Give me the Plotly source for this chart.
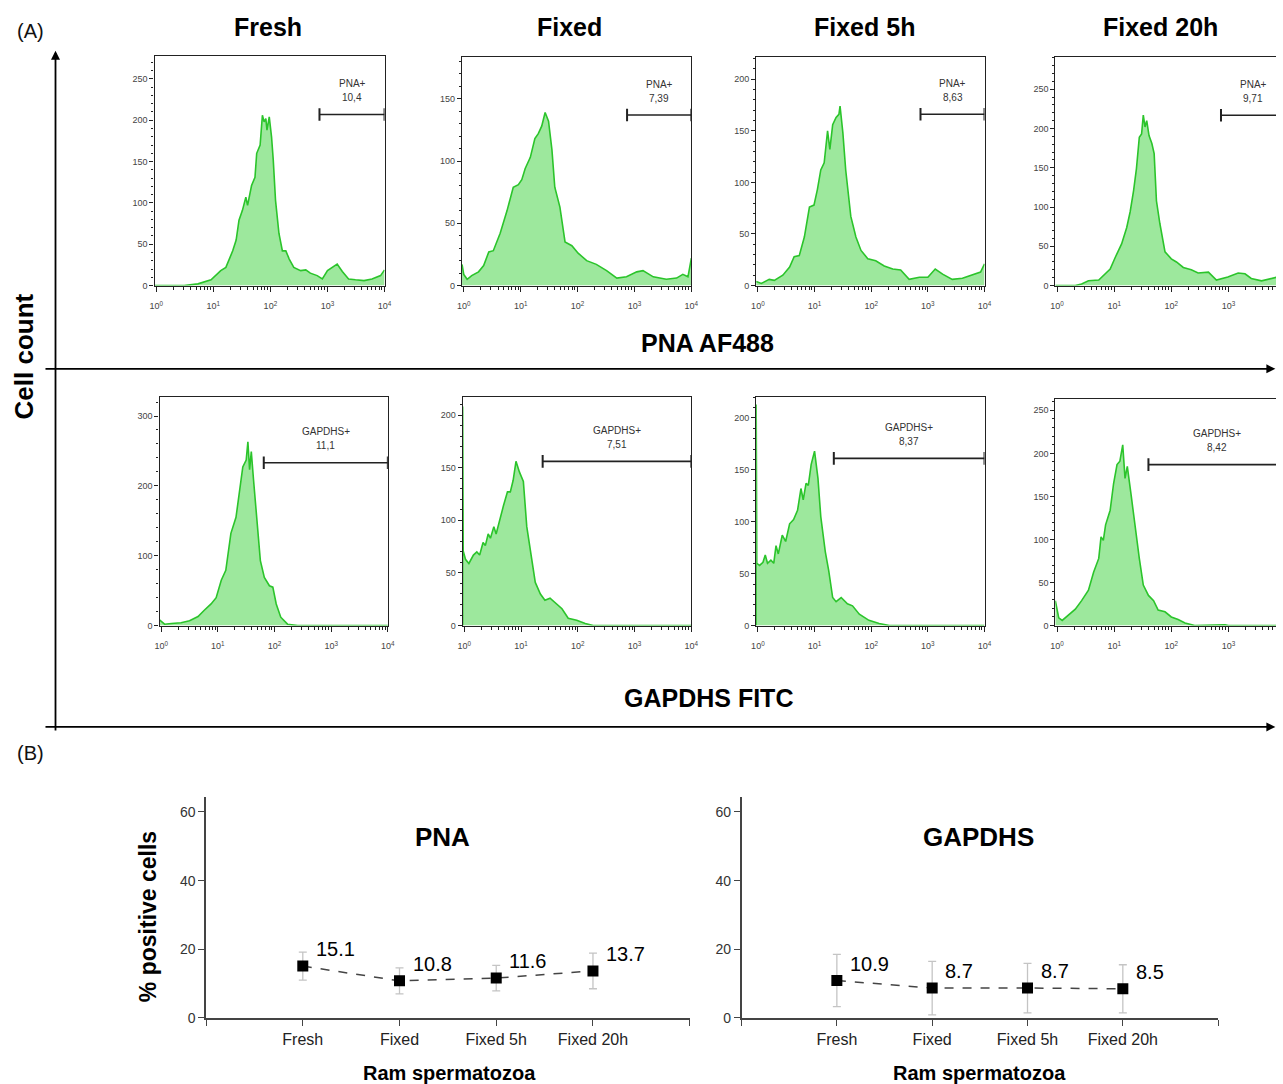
import math
import plotly.graph_objects as go

W, H = 1283, 1084
# The photographed page comes out very slightly shrunk/shifted; positions below are given in
# reference-picture pixels and mapped to figure pixels through this small correction.
OX, SX = 3.35, 0.9935
OY, SY = 0.2, 0.9925


def fig_px_x(px):
    return (px - OX) / SX


def fig_px_y(py):
    return (py - OY) / SY


def fx(px):
    return min(fig_px_x(px), W) / W


def fy(py):
    return max(0.0, 1 - fig_px_y(py) / H)


REF_RIGHT = OX + SX * W  # reference x that the figure's right edge lands on

conditions = ["Fresh", "Fixed", "Fixed 5h", "Fixed 20h"]

# ---------------- Histogram data (log10 fluorescence, cell count) ----------------
pna_fresh_lx = [-0.02, 0.49, 0.73, 0.96, 1.13, 1.22, 1.34, 1.40, 1.45, 1.51, 1.57, 1.60, 1.67, 1.73, 1.76,
                1.82, 1.86, 1.89, 1.92, 1.94, 1.98, 2.02, 2.05, 2.09, 2.15, 2.21, 2.27, 2.33, 2.41, 2.53,
                2.62, 2.70, 2.82, 2.91, 3.00, 3.08, 3.17, 3.26, 3.37, 3.49, 3.64, 3.78, 3.93, 4.0]
pna_fresh_n = [0, 0, 2, 7, 18, 22, 42, 55, 79, 91, 107, 97, 121, 131, 160,
               170, 206, 198, 202, 188, 204, 180, 152, 103, 63, 42, 42, 32, 22, 18,
               19, 15, 12, 8, 18, 22, 26, 17, 8, 7, 6, 8, 12, 19]

pna_fixed_lx = [-0.03, 0.00, 0.06, 0.14, 0.26, 0.35, 0.44, 0.52, 0.64, 0.76, 0.87, 0.96, 1.02, 1.08, 1.17,
                1.25, 1.31, 1.37, 1.43, 1.49, 1.55, 1.60, 1.69, 1.78, 1.90, 2.01, 2.16, 2.33, 2.51, 2.69,
                2.86, 3.04, 3.15, 3.33, 3.56, 3.74, 3.85, 3.94, 4.0]
pna_fixed_n = [17, 9, 5, 8, 11, 16, 27, 28, 42, 60, 79, 81, 85, 94, 103,
               118, 122, 128, 139, 132, 109, 79, 63, 35, 32, 26, 20, 17, 12, 6,
               7, 11, 12, 7, 5, 6, 9, 7, 22]

pna_5h_lx = [-0.03, 0.06, 0.20, 0.29, 0.44, 0.56, 0.64, 0.73, 0.82, 0.91, 0.99, 1.05, 1.11, 1.17, 1.23,
             1.27, 1.32, 1.38, 1.43, 1.45, 1.50, 1.55, 1.64, 1.73, 1.82, 1.94, 2.08, 2.23, 2.38, 2.52,
             2.67, 2.85, 3.00, 3.13, 3.26, 3.43, 3.61, 3.78, 3.93, 4.0]
pna_5h_n = [4, 2, 6, 5, 10, 18, 28, 29, 47, 76, 78, 93, 112, 119, 150,
            132, 156, 163, 166, 174, 148, 112, 67, 47, 34, 26, 24, 19, 16, 15,
            6, 8, 8, 16, 11, 6, 7, 10, 13, 21]

pna_20h_lx = [-0.03, 0.32, 0.43, 0.55, 0.73, 0.84, 0.93, 1.02, 1.13, 1.22, 1.28, 1.34, 1.39, 1.44, 1.48,
              1.51, 1.54, 1.57, 1.61, 1.66, 1.70, 1.74, 1.80, 1.89, 2.00, 2.09, 2.21, 2.35, 2.47, 2.65,
              2.79, 2.99, 3.17, 3.29, 3.40, 3.58, 3.75, 3.87, 3.93, 4.0]
pna_20h_n = [0, 0, 2, 6, 7, 15, 21, 36, 53, 74, 94, 121, 149, 189, 193,
             217, 202, 210, 191, 181, 168, 108, 79, 43, 34, 30, 23, 20, 16, 17,
             7, 11, 16, 15, 9, 6, 9, 11, 15, 20]

gap_fresh_lx = [-0.03, 0.06, 0.18, 0.35, 0.50, 0.65, 0.76, 0.88, 0.97, 1.06, 1.14, 1.23, 1.32, 1.38, 1.44,
                1.50, 1.53, 1.56, 1.59, 1.63, 1.69, 1.75, 1.82, 1.91, 1.97, 2.03, 2.11, 2.23, 2.41, 4.0]
gap_fresh_n = [8, 2, 3, 4, 7, 13, 22, 31, 40, 65, 79, 132, 155, 189, 227,
               237, 263, 223, 249, 208, 151, 93, 69, 57, 55, 31, 12, 2, 0, 0]

gap_fixed_lx = [-0.03, -0.03, -0.02, 0.02, 0.08, 0.16, 0.22, 0.27, 0.33, 0.37, 0.42, 0.46, 0.52, 0.56, 0.63,
                0.69, 0.76, 0.81, 0.86, 0.91, 0.97, 1.04, 1.10, 1.18, 1.25, 1.34, 1.42, 1.51, 1.60, 1.72,
                1.83, 1.98, 2.13, 2.27, 4.0]
gap_fixed_n = [0, 208, 71, 63, 59, 67, 70, 67, 79, 76, 87, 83, 94, 87, 103,
               114, 127, 127, 138, 156, 146, 137, 94, 65, 41, 30, 24, 26, 22, 16,
               7, 5, 2, 0, 0]

gap_5h_lx = [-0.03, -0.03, -0.02, 0.03, 0.09, 0.13, 0.17, 0.23, 0.28, 0.32, 0.36, 0.43, 0.49, 0.56, 0.63,
             0.70, 0.76, 0.80, 0.85, 0.89, 0.94, 1.00, 1.06, 1.11, 1.19, 1.25, 1.32, 1.38, 1.47, 1.58,
             1.67, 1.79, 1.96, 2.14, 2.32, 4.0]
gap_5h_n = [0, 213, 60, 58, 61, 68, 60, 63, 60, 77, 69, 87, 81, 98, 102,
            111, 132, 121, 137, 135, 155, 168, 142, 105, 71, 53, 27, 23, 27, 21,
            19, 11, 5, 2, 0, 0]

gap_20h_lx = [-0.03, 0.03, 0.09, 0.20, 0.32, 0.43, 0.55, 0.64, 0.73, 0.77, 0.81, 0.85, 0.93, 0.99, 1.05,
              1.10, 1.15, 1.19, 1.23, 1.30, 1.37, 1.44, 1.51, 1.60, 1.69, 1.77, 1.89, 2.00, 2.12, 2.24,
              2.41, 2.94, 3.00, 4.0]
gap_20h_n = [29, 9, 6, 12, 19, 29, 41, 62, 78, 103, 99, 117, 134, 165, 187,
             191, 210, 171, 185, 150, 113, 78, 47, 35, 29, 18, 16, 10, 7, 3,
             0, 1, 0, 0]

# gates (log10 start, count level) and their percentages
pna_gate_lo = [2.86, 2.87, 2.87, 2.87]
pna_gate_n = [207, 137, 166, 217]
pna_gate_pct = ["10,4", "7,39", "8,63", "9,71"]
gap_gate_lo = [1.81, 1.38, 1.34, 1.60]
gap_gate_n = [233, 156, 161, 187]
gap_gate_pct = ["11,1", "7,51", "8,37", "8,42"]
gate_hi = 4.0

# ---------------- Summary data (panel B) ----------------
pna_mean = [15.1, 10.8, 11.6, 13.7]
pna_sd = [4.1, 3.8, 3.7, 5.2]
gap_mean = [10.9, 8.7, 8.7, 8.5]
gap_sd = [7.6, 7.8, 7.2, 7.0]

# ---------------- Layout geometry (reference pixels) ----------------
hist_sets = [
    (pna_fresh_lx, pna_fresh_n), (pna_fixed_lx, pna_fixed_n), (pna_5h_lx, pna_5h_n), (pna_20h_lx, pna_20h_n),
    (gap_fresh_lx, gap_fresh_n), (gap_fixed_lx, gap_fixed_n), (gap_5h_lx, gap_5h_n), (gap_20h_lx, gap_20h_n),
]
boxes = [
    (153.3, 384, 56, 285.7), (461.7, 691.7, 56.7, 285.7), (756.7, 985.7, 56.7, 285.7), (1056.7, 1283, 57.3, 285.7),
    (158.3, 387.3, 397.3, 625.7), (462.3, 691.7, 397.3, 625.7), (756.7, 985.7, 397.3, 625.7), (1056.7, 1283, 399.3, 625.7),
]
y_tops = [278, 184, 222, 291, 327, 217, 220, 263]
y_dticks = [50, 50, 50, 50, 100, 50, 50, 50]
x_rights = [4.0, 4.0, 4.0, 3.92, 4.0, 4.0, 4.0, 3.92]
X_LEFT = -0.03
gate_lo = pna_gate_lo + gap_gate_lo
gate_n = pna_gate_n + gap_gate_n
gate_pct = pna_gate_pct + gap_gate_pct
gate_name = ["PNA+"] * 4 + ["GAPDHS+"] * 4

LINE = "#2BC42B"
FILL = "#9DE89D"
AX = "#222222"
ARIAL = "Liberation Sans, Arial, sans-serif"
TICKFONT = dict(family=ARIAL, size=9, color="#444")

minor_x = [n + math.log10(k) for n in range(4) for k in range(2, 10)]

fig = go.Figure()
layout = dict(
    width=W, height=H, margin=dict(l=0, r=0, t=0, b=0),
    paper_bgcolor="white", plot_bgcolor="white", showlegend=False,
)
annotations = []


def label(px, py, text, size, color="black", angle=0):
    annotations.append(dict(x=fx(px), y=fy(py), xref="paper", yref="paper", text=text,
                            showarrow=False, xanchor="center", yanchor="middle", textangle=angle,
                            font=dict(family=ARIAL, size=size, color=color)))


for i, ((lx, n), (x0, x1, y0, y1)) in enumerate(zip(hist_sets, boxes)):
    k = i + 1
    xa = "x" if k == 1 else f"x{k}"
    ya = "y" if k == 1 else f"y{k}"
    fig.add_trace(go.Scatter(x=lx, y=n, xaxis=xa, yaxis=ya, mode="lines",
                             line=dict(color=LINE, width=1.6), fill="tozeroy", fillcolor=FILL,
                             hoverinfo="skip"))
    fig.add_trace(go.Scatter(x=[gate_lo[i], gate_hi], y=[gate_n[i], gate_n[i]], xaxis=xa, yaxis=ya,
                             mode="lines+markers", line=dict(color=AX, width=1.6),
                             marker=dict(symbol="line-ns", size=9, line=dict(width=2, color=AX)),
                             hoverinfo="skip"))
    # visible right end (the last column runs off the page edge)
    px_per_dec = (x1 - x0) / (x_rights[i] - X_LEFT)
    x1_vis = min(x1, REF_RIGHT)
    x_right_vis = X_LEFT + (x1_vis - x0) / px_per_dec
    clipped = x_right_vis < gate_hi
    layout["xaxis" if k == 1 else f"xaxis{k}"] = dict(
        domain=[fx(x0), fx(x1_vis)], range=[X_LEFT, x_right_vis], anchor=ya,
        tickmode="array", tickvals=[0, 1, 2, 3, 4],
        ticktext=[f"10<sup>{p}</sup>" for p in range(5)],
        ticks="outside", ticklen=5, tickwidth=1, tickcolor=AX, ticklabelstandoff=7,
        showline=True, linecolor=AX, linewidth=1.2, mirror=True,
        showgrid=False, zeroline=False, tickfont=TICKFONT,
        minor=dict(tickmode="array", tickvals=minor_x, ticks="outside", ticklen=3, tickcolor=AX),
    )
    layout["yaxis" if k == 1 else f"yaxis{k}"] = dict(
        domain=[fy(y1), fy(y0)], range=[0, y_tops[i]], anchor=xa,
        tickmode="linear", tick0=0, dtick=y_dticks[i],
        ticks="outside", ticklen=4, tickwidth=1, tickcolor=AX,
        showline=True, linecolor=AX, linewidth=1.2, mirror=(not clipped),
        showgrid=False, zeroline=False, tickfont=TICKFONT,
        minor=dict(dtick=y_dticks[i] / 5, ticks="outside", ticklen=2, tickcolor=AX),
    )
    cx = (gate_lo[i] + gate_hi) / 2
    for txt, shift in ((gate_name[i], 31), (gate_pct[i], 17)):
        annotations.append(dict(x=cx, y=gate_n[i], xref=xa, yref=ya, text=txt, showarrow=False,
                                yanchor="middle", xanchor="center", yshift=shift,
                                font=dict(family=ARIAL, size=10, color="#333")))

# ---------------- Panel B ----------------
b_boxes = [(205, 690, 797, 1018), (742, 1220, 797, 1018)]
b_sets = [(pna_mean, pna_sd), (gap_mean, gap_sd)]
b_titles = ["PNA", "GAPDHS"]
b_title_x = [442, 980]
b_xlabel_x = [449, 981]
xpos = [0, 1, 2, 3]
for j, ((m, sd), (x0, x1, y0, y1)) in enumerate(zip(b_sets, b_boxes)):
    k = 9 + j
    xa, ya = f"x{k}", f"y{k}"
    fig.add_trace(go.Scatter(x=xpos, y=m, xaxis=xa, yaxis=ya, mode="lines+markers",
                             line=dict(color="#444", width=1.5, dash="dash"),
                             marker=dict(symbol="square", size=11, color="black"),
                             error_y=dict(type="data", array=sd, visible=True, color="#c4c4c4",
                                          thickness=1.3, width=4),
                             hoverinfo="skip"))
    layout[f"xaxis{k}"] = dict(
        domain=[fx(x0), fx(x1)], range=[-1, 4], anchor=ya,
        tickmode="array", tickvals=[-1, 0, 1, 2, 3, 4], ticktext=[""] + conditions + [""],
        ticks="outside", ticklen=6, tickwidth=1.2, tickcolor="#444",
        showline=True, linecolor="#444", linewidth=1.5, showgrid=False, zeroline=False,
        tickfont=dict(family=ARIAL, size=16, color="#222"),
    )
    layout[f"yaxis{k}"] = dict(
        domain=[fy(y1), fy(y0)], range=[0, 64.4], anchor=xa,
        tickmode="array", tickvals=[0, 20, 40, 60],
        ticks="outside", ticklen=6, tickwidth=1.2, tickcolor="#444",
        showline=True, linecolor="#444", linewidth=1.5, showgrid=False, zeroline=False,
        tickfont=dict(family=ARIAL, size=14, color="#333"),
    )
    for xi, v in zip(xpos, m):
        annotations.append(dict(x=xi, y=v, xref=xa, yref=ya, text=f"{v:.1f}", showarrow=False,
                                xanchor="left", yanchor="bottom", xshift=11, yshift=4,
                                font=dict(family=ARIAL, size=20, color="black")))
    label(b_title_x[j], 837, f"<b>{b_titles[j]}</b>", 26)
    label(b_xlabel_x[j], 1073, "<b>Ram spermatozoa</b>", 20)

label(147, 917, "<b>% positive cells</b>", 23, angle=-90)

# ---------------- Panel A labels and arrows ----------------
for name, px in zip(conditions, [267, 569, 865, 1162]):
    label(px, 27, f"<b>{name}</b>", 25)
label(708, 343, "<b>PNA AF488</b>", 25)
label(709, 698, "<b>GAPDHS FITC</b>", 25)
label(22, 357, "<b>Cell count</b>", 26, angle=-90)
label(29, 31, "(A)", 20, color="#111")
label(29, 753, "(B)", 20, color="#111")

# axis arrows
arrow_x = 54
annotations.append(dict(x=fx(arrow_x), y=fy(51), xref="paper", yref="paper", text="", showarrow=True,
                        ax=0, ay=fig_px_y(727) - fig_px_y(51), axref="pixel", ayref="pixel",
                        arrowhead=2, arrowsize=1, arrowwidth=1.8, arrowcolor="black", standoff=0))
for py in (369, 727):
    annotations.append(dict(x=0.9995, y=fy(py), xref="paper", yref="paper", text="", showarrow=True,
                            ax=-(W * 0.9995 - fig_px_x(arrow_x)), ay=0, axref="pixel", ayref="pixel",
                            arrowhead=2, arrowsize=1, arrowwidth=1.8, arrowcolor="black", standoff=0))

layout["annotations"] = annotations
fig.update_layout(**layout)
fig.write_html("out.html")
